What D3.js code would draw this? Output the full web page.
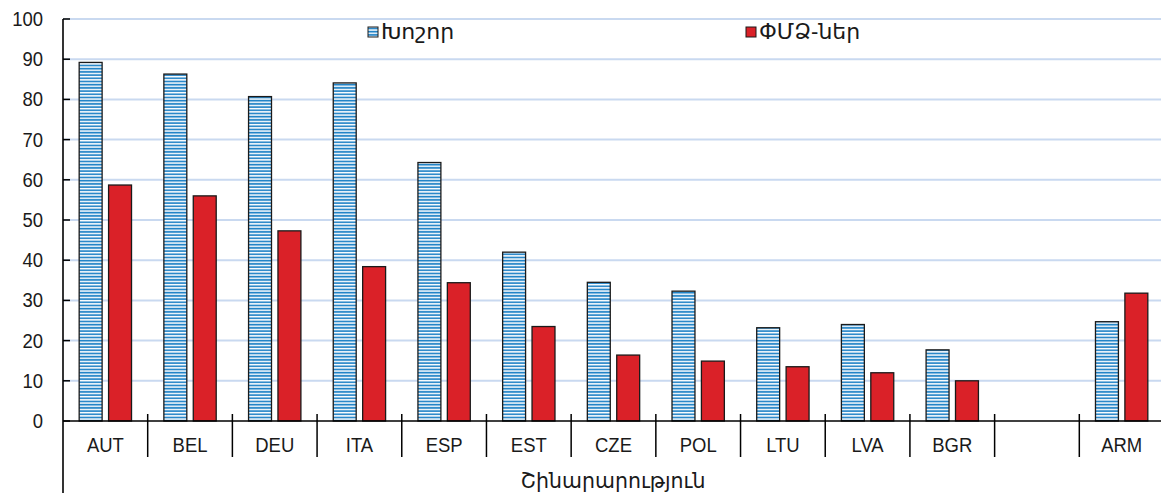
<!DOCTYPE html>
<html>
<head>
<meta charset="utf-8">
<script src="https://cdn.jsdelivr.net/npm/d3@7"></script>
<style>
  body { margin: 0; background: #fff; }
  text { font-family: "Liberation Sans", Arial, "DejaVu Sans", sans-serif; fill: #1a1a1a; }
</style>
</head>
<body>
<div id="chart"></div>
<script>
// Categories (empty slot before ARM kept as in the original)
const categories = ["AUT", "BEL", "DEU", "ITA", "ESP", "EST", "CZE", "POL", "LTU", "LVA", "BGR", "", "ARM"];
const largeValues = [89.2, 86.3, 80.7, 84.1, 64.3, 42.0, 34.5, 32.3, 23.2, 24.0, 17.7, null, 24.7];
const smeValues = [58.7, 56.0, 47.3, 38.4, 34.4, 23.5, 16.4, 14.9, 13.5, 12.0, 10.0, null, 31.8];
const seriesNames = ["Խոշոր", "ՓՄՁ-ներ"];
const yTicks = [0, 10, 20, 30, 40, 50, 60, 70, 80, 90, 100];
const xTitle = "Շինարարություն";

const width = 1161;
const height = 495;
const plotLeft = 63, plotTop = 19, plotBottom = 421;
const narrow = 0.88; // labels in the original use a condensed face

const svg = d3.select("#chart")
    .append("svg")
    .attr("width", width)
    .attr("height", height);

// pattern for the striped blue bars
const defs = svg.append("defs");
const pat = defs.append("pattern")
    .attr("id", "stripes")
    .attr("patternUnits", "userSpaceOnUse")
    .attr("width", 8)
    .attr("height", 3.2);
pat.append("rect").attr("width", 8).attr("height", 3.2).attr("fill", "#ffffff");
pat.append("rect").attr("y", 0.6).attr("width", 8).attr("height", 1.7).attr("fill", "#1f82c6");

const x = d3.scaleBand()
    .domain(categories)
    .range([plotLeft, 1164])
    .padding(0);

const x1 = d3.scaleBand()
    .domain([0, 1])
    .range([0, x.bandwidth()])
    .paddingInner(0.22)
    .paddingOuter(0.55);

const y = d3.scaleLinear()
    .domain([0, 100])
    .range([plotBottom, plotTop]);

// gridlines
svg.append("g")
    .selectAll("line")
    .data(yTicks.filter(d => d > 0))
    .enter()
    .append("line")
    .attr("x1", plotLeft)
    .attr("x2", width)
    .attr("y1", d => y(d))
    .attr("y2", d => y(d))
    .attr("stroke", "#c9d9f0")
    .attr("stroke-width", 2);

// bars
const groups = svg.append("g")
    .selectAll("g")
    .data(categories.map((c, i) => ({ c, vals: [largeValues[i], smeValues[i]] })))
    .enter()
    .append("g")
    .attr("transform", d => `translate(${x(d.c)},0)`);

groups.selectAll("rect")
    .data(d => d.vals.map((v, k) => ({ v, k })).filter(e => e.v !== null))
    .enter()
    .append("rect")
    .attr("x", e => x1(e.k))
    .attr("width", x1.bandwidth())
    .attr("y", e => y(e.v))
    .attr("height", e => y(0) - y(e.v))
    .attr("fill", e => e.k === 0 ? "url(#stripes)" : "#da2128")
    .attr("stroke", "#1a1a1a")
    .attr("stroke-width", 1.3);

// y axis
const yAxis = svg.append("g");
yAxis.append("line")
    .attr("x1", plotLeft).attr("x2", plotLeft)
    .attr("y1", plotTop).attr("y2", 493)
    .attr("stroke", "#000").attr("stroke-width", 1.6);
yAxis.selectAll(".tick")
    .data(yTicks)
    .enter()
    .append("line")
    .attr("x1", plotLeft).attr("x2", plotLeft + 7)
    .attr("y1", d => y(d)).attr("y2", d => y(d))
    .attr("stroke", "#000").attr("stroke-width", 1.5);
yAxis.selectAll("text")
    .data(yTicks)
    .enter()
    .append("text")
    .attr("transform", d => `translate(43,${y(d) + 7}) scale(${narrow},1)`)
    .attr("text-anchor", "end")
    .style("font-size", "21px")
    .text(d => d);

// x axis
const xAxis = svg.append("g");
xAxis.append("line")
    .attr("x1", plotLeft).attr("x2", width)
    .attr("y1", plotBottom).attr("y2", plotBottom)
    .attr("stroke", "#000").attr("stroke-width", 1.5);
xAxis.selectAll(".sep")
    .data(categories.slice(1))
    .enter()
    .append("line")
    .attr("x1", d => x(d)).attr("x2", d => x(d))
    .attr("y1", 414).attr("y2", 457)
    .attr("stroke", "#000").attr("stroke-width", 1.5);
xAxis.selectAll("text")
    .data(categories)
    .enter()
    .append("text")
    .attr("transform", d => `translate(${x(d) + x.bandwidth() / 2},452) scale(${narrow},1)`)
    .attr("text-anchor", "middle")
    .style("font-size", "21px")
    .text(d => d);

svg.append("text")
    .attr("x", 613)
    .attr("y", 488)
    .attr("text-anchor", "middle")
    .style("font-size", "20.5px")
    .text(xTitle);

// legend
const legendItems = [
    { name: seriesNames[0], fill: "url(#stripes)", x: 368 },
    { name: seriesNames[1], fill: "#da2128", x: 746 }
];
const lg = svg.append("g")
    .selectAll("g")
    .data(legendItems)
    .enter()
    .append("g")
    .attr("transform", d => `translate(${d.x},27)`);
lg.append("rect")
    .attr("width", 10).attr("height", 10)
    .attr("fill", d => d.fill)
    .attr("stroke", "#1a1a1a").attr("stroke-width", 1);
lg.append("text")
    .attr("x", 13)
    .attr("y", 12)
    .style("font-size", "22px")
    .text(d => d.name);
</script>
</body>
</html>
